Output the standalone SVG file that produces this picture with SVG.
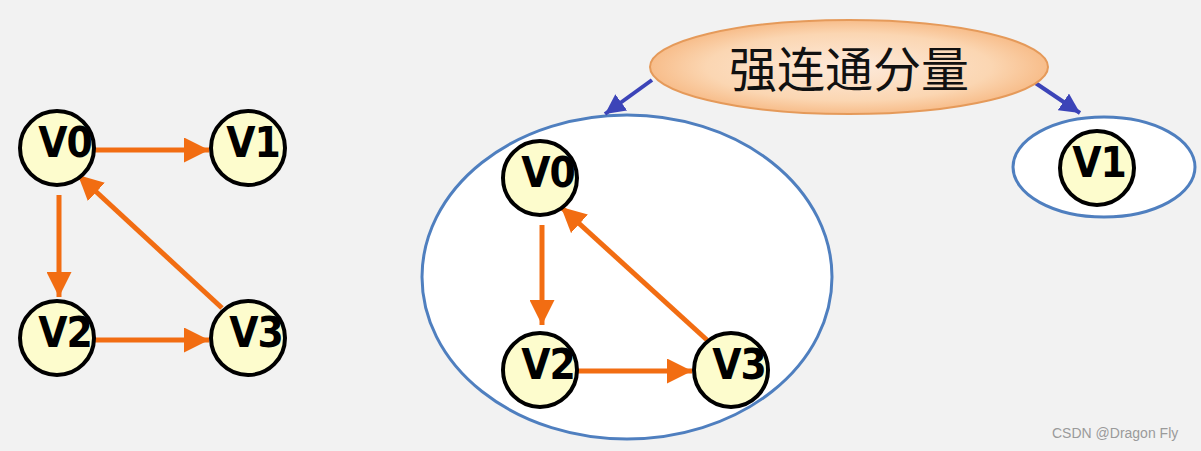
<svg xmlns="http://www.w3.org/2000/svg" width="1201" height="451" viewBox="0 0 1201 451">
<style>
.node circle{fill:#fdfccd;stroke:#000;stroke-width:4}
.node text{font-family:"DejaVu Sans Condensed","DejaVu Sans",sans-serif;font-weight:bold;font-size:42px;fill:#000;text-anchor:middle;letter-spacing:-1px}
.e{stroke:#f26d12;stroke-width:5;fill:none}
.b{stroke:#3c44b8;stroke-width:4;fill:none}
.grp{fill:#fff;stroke:#4f7fbf;stroke-width:3}
</style>
<defs>
<marker id="ao" viewBox="0 0 10 10" refX="10" refY="5" markerWidth="5" markerHeight="5" markerUnits="strokeWidth" orient="auto"><path d="M0,0 L10,5 L0,10 z" fill="#f26d12"/></marker>
<marker id="ab" viewBox="0 0 10 10" refX="10" refY="5" markerWidth="5" markerHeight="5" markerUnits="strokeWidth" orient="auto"><path d="M0,0 L10,5 L0,10 z" fill="#3c44b8"/></marker>
<radialGradient id="pg" cx="50%" cy="50%" r="55%">
<stop offset="0" stop-color="#fdeadb"/><stop offset="0.65" stop-color="#fbd6b2"/><stop offset="1" stop-color="#f6b47c"/>
</radialGradient>
</defs>
<rect width="1201" height="451" fill="#f2f2f2"/>
<g id="group-a"><ellipse class="grp" cx="627" cy="277" rx="205" ry="162"/></g>
<g id="group-b"><ellipse class="grp" cx="1104" cy="167" rx="91" ry="50"/></g>
<g id="connectors">
<line class="e" x1="95" y1="150" x2="209" y2="150" marker-end="url(#ao)"/>
<line class="e" x1="59" y1="195" x2="59" y2="297" marker-end="url(#ao)"/>
<line class="e" x1="95" y1="340" x2="209" y2="340" marker-end="url(#ao)"/>
<line class="e" x1="222" y1="308" x2="78" y2="175" marker-end="url(#ao)"/>
<line class="e" x1="542" y1="225" x2="542" y2="325" marker-end="url(#ao)"/>
<line class="e" x1="577" y1="371" x2="692" y2="371" marker-end="url(#ao)"/>
<line class="e" x1="707" y1="340" x2="561" y2="207" marker-end="url(#ao)"/>
<line class="b" x1="652" y1="80" x2="605" y2="114" marker-end="url(#ab)"/>
<line class="b" x1="1034" y1="82" x2="1080" y2="113" marker-end="url(#ab)"/>
</g>
<g id="title"><ellipse cx="849" cy="67" rx="199" ry="47" fill="url(#pg)" stroke="#e59a5a" stroke-width="2"/>
<text x="849" y="87" font-family="'Noto Sans CJK SC',sans-serif" font-size="48" text-anchor="middle" fill="#111">强连通分量</text></g>
<g id="n-v0" class="node"><circle cx="57" cy="148" r="37"/><text x="65" y="157">V0</text></g>
<g id="n-v1" class="node"><circle cx="248" cy="148" r="37"/><text x="253" y="157">V1</text></g>
<g id="n-v2" class="node"><circle cx="57" cy="338" r="37"/><text x="65" y="347">V2</text></g>
<g id="n-v3" class="node"><circle cx="248" cy="338" r="37"/><text x="256" y="347">V3</text></g>
<g id="m-v0" class="node"><circle cx="540" cy="178" r="37"/><text x="548" y="187">V0</text></g>
<g id="m-v2" class="node"><circle cx="540" cy="370" r="37"/><text x="548" y="379">V2</text></g>
<g id="m-v3" class="node"><circle cx="731" cy="370" r="37"/><text x="739" y="379">V3</text></g>
<g id="r-v1" class="node"><circle cx="1097" cy="168" r="37"/><text x="1099" y="177">V1</text></g>
<text x="1052" y="438" font-family="'Liberation Sans',sans-serif" font-size="14" fill="#9a9a9a">CSDN @Dragon Fly</text>
</svg>
